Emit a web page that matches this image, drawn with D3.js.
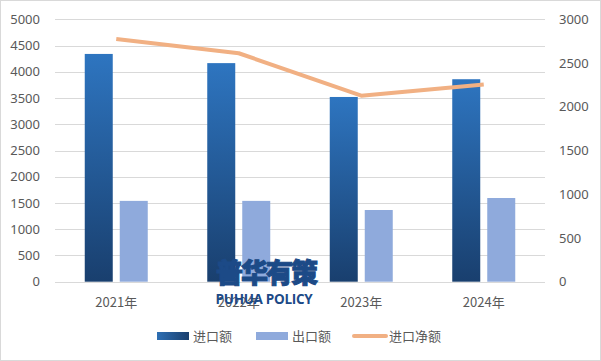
<!DOCTYPE html>
<html><head><meta charset="utf-8">
<script src="https://cdn.jsdelivr.net/npm/d3@7"></script>
<style>body{margin:0;background:#fff;}svg{display:block;font-family:"Noto Sans CJK SC","Noto Sans",sans-serif;}</style>
</head><body><svg id="c" width="601" height="361"></svg>
<script>
const categories = ["2021年","2022年","2023年","2024年"];
const importVals = [4340, 4165, 3520, 3858];
const exportVals = [1540, 1540, 1366, 1595];
const netVals = [2775, 2612, 2127, 2255];
const leftTicks = [0,500,1000,1500,2000,2500,3000,3500,4000,4500,5000];
const rightTicks = [0,500,1000,1500,2000,2500,3000];
const seriesNames = ["进口额","出口额","进口净额"];

const svg = d3.select("#c");
const W=601,H=361;
svg.append("rect").attr("x",0.5).attr("y",0.5).attr("width",W-1).attr("height",H-1).attr("fill","#fff").attr("stroke","#d9d9d9");

const defs = svg.append("defs");
const g1 = defs.append("linearGradient").attr("id","impG").attr("x1",0).attr("y1",0).attr("x2",0).attr("y2",1);
g1.append("stop").attr("offset","0%").attr("stop-color","#2e75c0");
g1.append("stop").attr("offset","100%").attr("stop-color","#193f6e");
const g2 = defs.append("linearGradient").attr("id","impL").attr("x1",0).attr("y1",0).attr("x2",1).attr("y2",0);
g2.append("stop").attr("offset","0%").attr("stop-color","#2e6fb4");
g2.append("stop").attr("offset","100%").attr("stop-color","#1a3f6d");

const L=55,R=545,T=19.3,B=281.7;
const x = d3.scaleBand().domain(categories).range([L,R]);
const yL = d3.scaleLinear().domain([0,5000]).range([B,T]);
const yR = d3.scaleLinear().domain([0,3000]).range([B,T]);

svg.append("g").selectAll("line").data(leftTicks).join("line")
 .attr("x1",L).attr("x2",R).attr("y1",d=>Math.round(yL(d))+0.5).attr("y2",d=>Math.round(yL(d))+0.5)
 .attr("stroke","#d9d9d9").attr("stroke-width",1);

const fmt = d3.format("d");
const axL = svg.append("g").attr("transform",`translate(${L},0)`).call(d3.axisLeft(yL).tickValues(leftTicks).tickFormat(fmt).tickSize(0).tickPadding(15));
const axR = svg.append("g").attr("transform",`translate(${R},0)`).call(d3.axisRight(yR).tickValues(rightTicks).tickFormat(fmt).tickSize(0).tickPadding(14));
[axL,axR].forEach(a=>{a.select(".domain").remove();a.selectAll("text").attr("fill","#595959").style("font-size","13px").style("font-family","'Noto Sans',sans-serif");});

const bw=28, gap=7;
const groupW = bw*2+gap;
const off = (x.bandwidth()-groupW)/2;
svg.append("g").selectAll("rect").data(categories).join("rect")
 .attr("x",d=>x(d)+off).attr("width",bw)
 .attr("y",(d,i)=>yL(importVals[i])).attr("height",(d,i)=>B-yL(importVals[i]))
 .attr("fill","url(#impG)");
svg.append("g").selectAll("rect").data(categories).join("rect")
 .attr("x",d=>x(d)+off+bw+gap).attr("width",bw)
 .attr("y",(d,i)=>yL(exportVals[i])).attr("height",(d,i)=>B-yL(exportVals[i]))
 .attr("fill","#8faadc");

svg.append("g").selectAll("text").data(categories).join("text")
 .attr("x",d=>x(d)+x.bandwidth()/2).attr("y",307).attr("text-anchor","middle")
 .attr("fill","#595959").style("font-size","13px").text(d=>d);

// watermark
svg.append("text").attr("x",266).attr("y",283).attr("text-anchor","middle").attr("fill","#1c4a87")
 .attr("stroke","#1c4a87").attr("stroke-width",1)
 .style("font-size","27px").style("font-weight","900").style("letter-spacing","-2px").text("普华有策");
svg.append("text").attr("x",264).attr("y",304).attr("text-anchor","middle").attr("fill","#1c4a87")
 .style("font-size","13.5px").style("font-weight","bold").style("font-family","'Open Sans','Liberation Sans',sans-serif").style("letter-spacing","-0.3px").text("PUHUA POLICY");

const line = d3.line().x((d,i)=>x(categories[i])+x.bandwidth()/2).y(d=>yR(d));
svg.append("path").datum(netVals).attr("d",line).attr("fill","none").attr("stroke","#f1b083").attr("stroke-width",4).attr("stroke-linejoin","round");

const lg = svg.append("g");
lg.append("rect").attr("x",157).attr("y",332).attr("width",32).attr("height",8).attr("fill","url(#impL)");
lg.append("text").attr("x",193).attr("y",341).attr("fill","#595959").style("font-size","13px").text(seriesNames[0]);
lg.append("rect").attr("x",256).attr("y",332).attr("width",32).attr("height",8).attr("fill","#8faadc");
lg.append("text").attr("x",292).attr("y",341).attr("fill","#595959").style("font-size","13px").text(seriesNames[1]);
lg.append("line").attr("x1",354).attr("x2",386).attr("y1",336).attr("y2",336).attr("stroke","#f1b083").attr("stroke-width",4).attr("stroke-linecap","round");
lg.append("text").attr("x",389).attr("y",341).attr("fill","#595959").style("font-size","13px").text(seriesNames[2]);
</script></body></html>
